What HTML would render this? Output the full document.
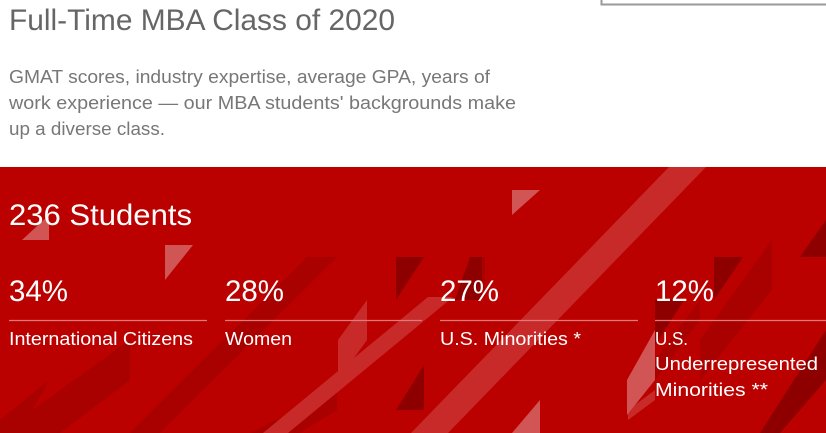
<!DOCTYPE html>
<html><head><meta charset="utf-8"><style>
html,body{margin:0;padding:0;background:#fff;overflow:hidden}
svg{display:block}
text{font-family:"Liberation Sans",sans-serif}
</style></head><body>
<svg width="826" height="433" viewBox="0 0 826 433" xmlns="http://www.w3.org/2000/svg">
<rect x="0" y="0" width="826" height="433" fill="#fff"/>
<path d="M601.5 0 V4.5 H826" fill="none" stroke="#9a9a9a" stroke-width="2"/>
<text x="9" y="30" font-size="30" fill="#666" textLength="386" lengthAdjust="spacingAndGlyphs">Full-Time MBA Class of 2020</text>
<g font-size="18.5" fill="#777">
<text x="9" y="83" textLength="481" lengthAdjust="spacingAndGlyphs">GMAT scores, industry expertise, average GPA, years of</text>
<text x="9" y="109" textLength="507" lengthAdjust="spacingAndGlyphs">work experience — our MBA students' backgrounds make</text>
<text x="9" y="135" textLength="156" lengthAdjust="spacingAndGlyphs">up a diverse class.</text>
</g>
<rect x="0" y="167" width="826" height="266" fill="#bb0000"/>
<g fill="#a90000">
<polygon points="337,257 307,257 130,433 160,433"/>
<polygon points="130,340 0,433 60,433 130,380"/>
<polygon points="49,380 0,420 0,433 20,433"/>
<polygon points="337,390 250,433 300,433 337,410"/>
<polygon points="485,257 470,257 470,297 485,297"/>
<polygon points="772,240 700,340 700,380 772,290"/>
<polygon points="700,300 655,360 655,380 700,320"/>
</g>
<g fill="#8e0000">
<polygon points="396,257 424,257 396,300"/>
<polygon points="482,257 470,257 455,300 482,300"/>
<polygon points="714,257 743,257 714,300"/>
<polygon points="684,300 655,300 655,345"/>
<polygon points="424,365 396,410 424,410"/>
<polygon points="826,330 826,380 780,433 760,433"/>
<polygon points="826,220 826,257 800,257"/>
</g>
<g fill="#c82a2a">
<polygon points="706,167 669,167 411,433 448,433"/>
<polygon points="453,297 428,297 263,433 288,433"/>
<polygon points="367,300 338,340 338,380 367,340"/>
<polygon points="655,387 627,420 627,420 655,387"/>
<polygon points="655,390 628,410 628,420 655,400"/>
</g>
<g fill="#d25555">
<polygon points="512,190 540,190 512,215"/>
<polygon points="165,245 193,245 165,280"/>
<polygon points="49,215 22,240 49,240"/>
<polygon points="655,330 627,380 627,415 655,380"/>
<polygon points="540,400 512,433 540,433"/>
</g>
<text x="9" y="225" font-size="30" fill="#fff" textLength="183" lengthAdjust="spacingAndGlyphs">236 Students</text>
<g font-size="30" fill="#fff">
<text x="9" y="301" textLength="59" lengthAdjust="spacingAndGlyphs">34%</text>
<text x="225" y="301" textLength="59" lengthAdjust="spacingAndGlyphs">28%</text>
<text x="440" y="301" textLength="59" lengthAdjust="spacingAndGlyphs">27%</text>
<text x="655" y="301" textLength="59" lengthAdjust="spacingAndGlyphs">12%</text>
</g>
<g stroke="#e07a7a" stroke-width="1.2">
<line x1="9" y1="320.5" x2="207" y2="320.5"/>
<line x1="225" y1="320.5" x2="422" y2="320.5"/>
<line x1="440" y1="320.5" x2="638" y2="320.5"/>
<line x1="655" y1="320.5" x2="826" y2="320.5"/>
</g>
<g font-size="18.5" fill="#fff">
<text x="9" y="345" textLength="184" lengthAdjust="spacingAndGlyphs">International Citizens</text>
<text x="225" y="345" textLength="67" lengthAdjust="spacingAndGlyphs">Women</text>
<text x="440" y="345" textLength="141" lengthAdjust="spacingAndGlyphs">U.S. Minorities *</text>
<text x="655" y="345" textLength="33" lengthAdjust="spacingAndGlyphs">U.S.</text>
<text x="655" y="370" textLength="163" lengthAdjust="spacingAndGlyphs">Underrepresented</text>
<text x="655" y="396" textLength="113" lengthAdjust="spacingAndGlyphs">Minorities **</text>
</g>
</svg>
</body></html>
